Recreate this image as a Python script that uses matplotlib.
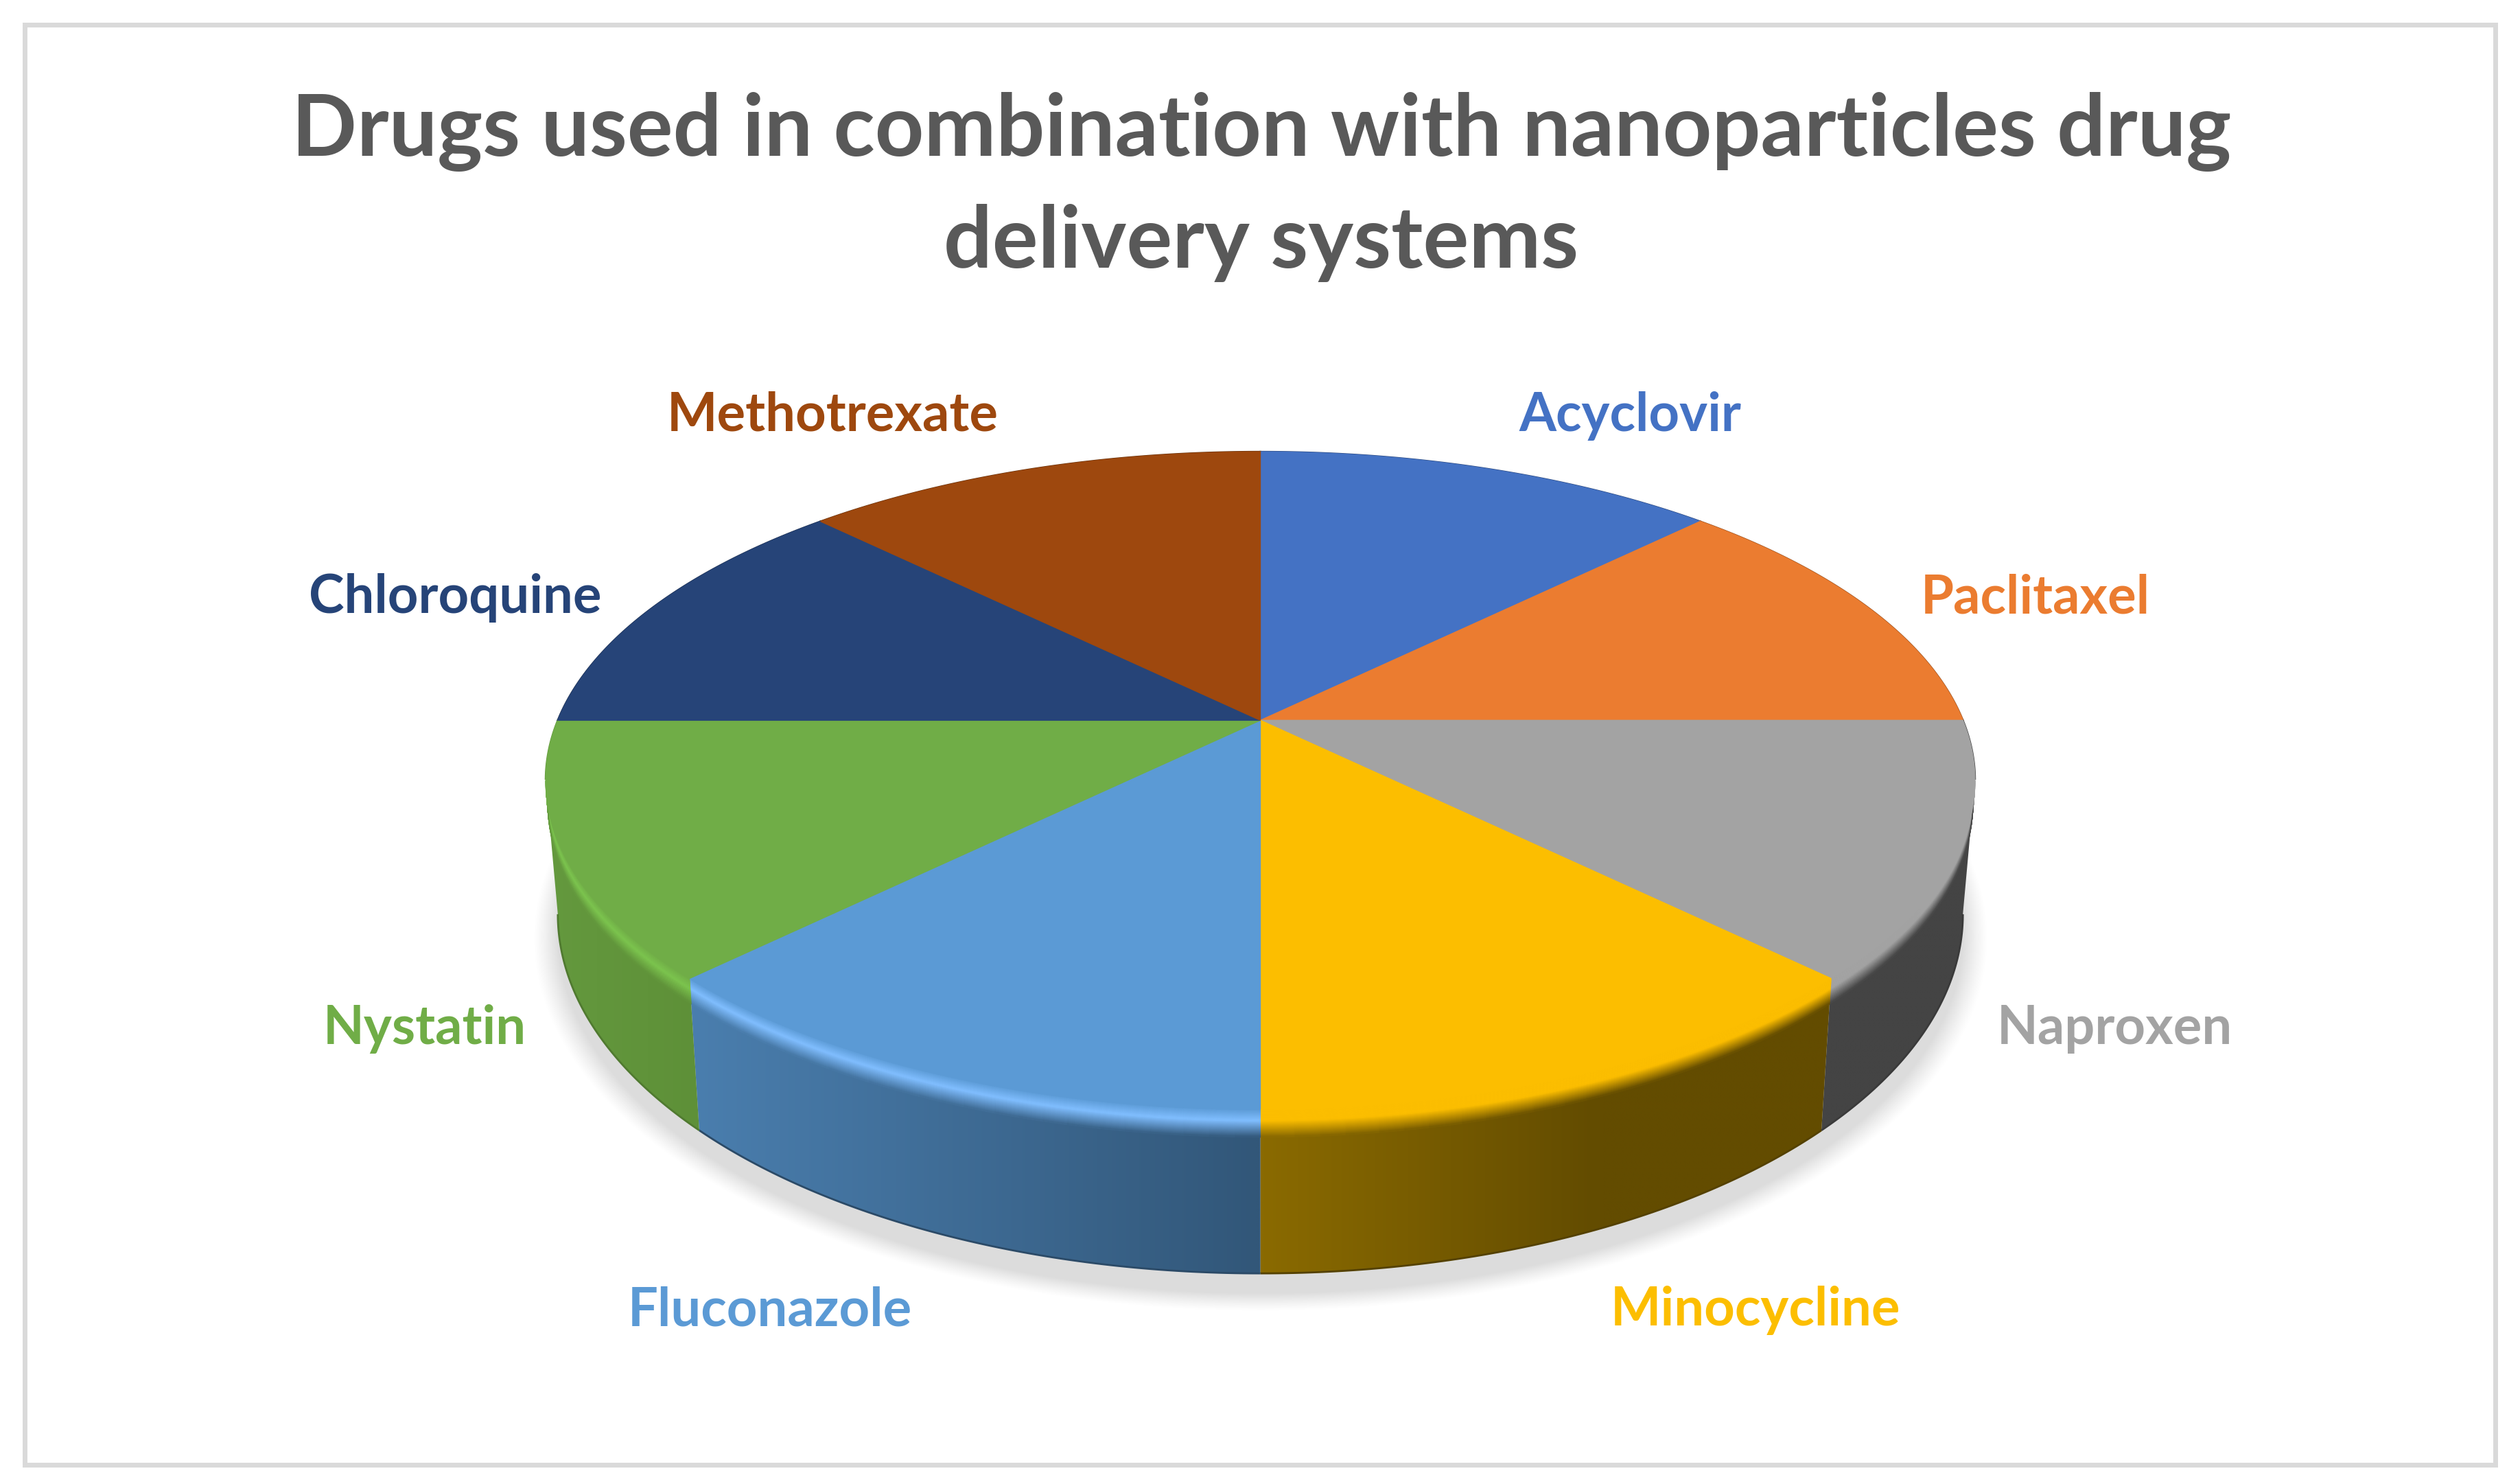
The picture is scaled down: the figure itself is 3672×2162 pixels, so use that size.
import numpy as np
import matplotlib
matplotlib.use('Agg')
import matplotlib.pyplot as plt
from matplotlib.patches import Polygon, Rectangle
from matplotlib.colors import to_rgb

# chart data, clockwise from 12 o'clock
drugs = ['Acyclovir', 'Paclitaxel', 'Naproxen', 'Minocycline',
         'Fluconazole', 'Nystatin', 'Chloroquine', 'Methotrexate']
values = [1, 1, 1, 1, 1, 1, 1, 1]
title_lines = ['Drugs used in combination with nanoparticles drug', 'delivery systems']

colors = ['#4472C4', '#EB7C30', '#A3A3A3', '#FCBE00',
          '#5B9AD5', '#70AD47', '#264478', '#9E480E']
highlight = ['#4472C4', '#EB7C30', '#A3A3A3', '#FCBE00',
             '#80BEFF', '#7CC44E', '#264478', '#9E480E']
wall_left = ['#2d4b82', '#9c5220', '#444444', '#8A6A00',
             '#4A7EAE', '#64993E', '#192d50', '#683009']
wall_right = ['#2d4b82', '#9c5220', '#444444', '#634C00',
              '#325779', '#5E9038', '#192d50', '#683009']
wall_ramp = [1, 1, 1, 1.7, 1, 1, 1, 1]
label_x = [2375, 2966, 3081, 2558, 1122, 619, 663, 1213]
label_y = [606, 871, 1499, 1909, 1909, 1499, 871, 606]

# perspective of the disc, fitted on the picture (pixels)
k = 0.1834
xc, yc, f, g = 1836.5, 1049.4, 1023.7, 462.9
y_low, f_low, g_low = 1235.9, 1006.3, 505.7


def top_pt(theta):
    u, v = np.cos(np.radians(theta)), np.sin(np.radians(theta))
    d = 1 + k * v
    return xc + f * u / d, yc - g * v / d


def low_pt(theta):
    u, v = np.cos(np.radians(theta)), np.sin(np.radians(theta))
    d = 1 + k * v
    return xc + f_low * u / d, y_low - g_low * v / d


def shade(c0, c1, t):
    a, b = np.array(to_rgb(c0)), np.array(to_rgb(c1))
    return tuple(a + (b - a) * t)


def wall_color(i, t):
    return shade(wall_left[i], wall_right[i], min(1, t * wall_ramp[i]))


fig = plt.figure(figsize=(36.73, 21.62), dpi=100, facecolor='white')
ax = fig.add_axes([0, 0, 1, 1])
ax.axis('off')

ax.add_patch(Rectangle((36.5, 35.5), 3599.5, 2098.5, fill=False, ec='#D9D9D9', lw=5))

# soft shadow under the disc
xx, yy = np.meshgrid(np.arange(0, 3673, 2.0), np.arange(0, 2162, 2.0))
a = (xx - xc) / f_low
b = (y_low + 28 - yy) / g_low
den = np.clip(1 - k * b, 0.05, None)
r = np.hypot(a / den, b / den)
alpha = 0.14 * np.clip((1.035 - r) / 0.035, 0, 1) ** 1.2
shadow = np.zeros(xx.shape + (4,))
shadow[..., 3] = alpha
ax.imshow(shadow, extent=(0, 3673, 2162, 0), aspect='auto', zorder=1, interpolation='bilinear')

edges = 90 - 360 * np.cumsum([0] + values) / np.sum(values)
vis = np.degrees(np.arcsin(k))

# top faces
for i in range(len(values)):
    th = np.linspace(edges[i], edges[i + 1], 80)
    tx, ty = top_pt(th)
    ax.fill(np.r_[xc, tx], np.r_[yc, ty], color=colors[i], lw=1.0, zorder=4)
    # thin dark edge only where no bevel runs
    back = (th > -vis) | (th < -180 + vis)
    if back.any():
        ax.plot(tx[back], ty[back], color=wall_left[i], lw=2.0, zorder=3.5)

# side walls and bevel of the front slices
for i in range(len(values)):
    hi, lo = min(edges[i], -vis), max(edges[i + 1], -180 + vis)
    if hi <= lo:
        continue
    th = np.linspace(hi, lo, 80)
    tx, ty = top_pt(th)
    bx, by = low_pt(th)
    poly = Polygon(np.r_[np.c_[tx, ty], np.c_[bx, by][::-1]], closed=True, fc='none', ec='none', zorder=2)
    ax.add_patch(poly)
    grad = np.array([[wall_color(i, t) for t in np.linspace(0, 1, 64)]] * 2)
    x0, x1 = min(tx.min(), bx.min()), max(tx.max(), bx.max())
    im = ax.imshow(grad, extent=(x0, x1, by.max() + 5, ty.min() - 5), aspect='auto', zorder=2, interpolation='bilinear')
    im.set_clip_path(poly)
    ax.plot(bx, by, color=shade(wall_right[i], '#000000', 0.15), lw=2, zorder=2.2, solid_capstyle='butt')

    # bevel: stacked strips from the face colour through the highlight to the wall
    n = 20
    m = 24
    s_in, s_peak, s_out = 0.0, 0.07, 0.17
    for j in range(n):
        s0 = s_in + (s_out - s_in) * j / n
        s1 = s_in + (s_out - s_in) * (j + 1) / n
        sm = (s0 + s1) / 2
        px0, py0 = tx + (bx - tx) * s0, ty + (by - ty) * s0
        px1, py1 = tx + (bx - tx) * s1, ty + (by - ty) * s1
        for e in range(m):
            i0, i1 = e * 79 // m, (e + 1) * 79 // m
            wc = wall_color(i, ((tx[i0] + tx[i1]) / 2 - x0) / (x1 - x0))
            if sm < s_peak:
                col = shade(colors[i], highlight[i], (sm - s_in) / (s_peak - s_in))
            else:
                col = shade(highlight[i], wc, (sm - s_peak) / (s_out - s_peak))
            ax.fill(np.r_[px0[i0:i1 + 1], px1[i0:i1 + 1][::-1]], np.r_[py0[i0:i1 + 1], py1[i0:i1 + 1][::-1]],
                    color=col, lw=0.8, zorder=3.8)

for i, name in enumerate(drugs):
    ax.text(label_x[i], label_y[i], name, color=colors[i], family='Lato', weight='bold',
            fontsize=56, ha='center', va='center', zorder=6)

for line, y in zip(title_lines, [192, 354]):
    ax.text(1838, y, line, color='#595959', family='Lato', weight='bold',
            fontsize=90, ha='center', va='center', zorder=6)

ax.set_xlim(0, 3673)
ax.set_ylim(2162, 0)
fig.savefig('out.png', dpi=100, facecolor='white')
